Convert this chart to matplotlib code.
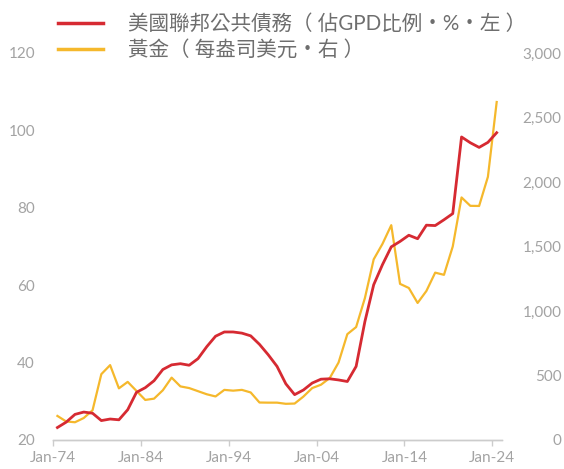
import matplotlib
matplotlib.use("Agg")
import matplotlib.pyplot as plt
from matplotlib.ticker import FuncFormatter

plt.rcParams['font.family'] = ['Lato', 'Noto Sans CJK TC', 'DejaVu Sans']

# 年度資料 (每年年中)
years = list(range(1974, 2025))
debt_pct = [23.2, 24.6, 26.6, 27.2, 26.9, 25.0, 25.4, 25.2, 27.8, 32.3,
            33.5, 35.3, 38.2, 39.4, 39.7, 39.3, 41.0, 44.1, 46.8, 47.9,
            47.9, 47.6, 46.9, 44.7, 42.0, 39.0, 34.5, 31.7, 32.9, 34.7,
            35.7, 35.8, 35.5, 35.1, 39.0, 50.6, 60.1, 65.3, 69.9, 71.3,
            72.9, 72.0, 75.5, 75.4, 76.9, 78.5, 98.3, 96.8, 95.6, 96.9,
            99.4]
gold_usd = [186, 143, 137, 170, 230, 510, 580, 400, 450, 380,
            310, 320, 385, 483, 415, 402, 378, 354, 337, 388,
            382, 388, 368, 290, 289, 289, 280, 282, 336, 402,
            428, 480, 600, 820, 875, 1100, 1400, 1520, 1665, 1210,
            1178, 1062, 1155, 1297, 1280, 1500, 1880, 1815, 1814, 2040,
            2620]
tick_years = [1974, 1984, 1994, 2004, 2014, 2024]
tick_labels = ['Jan-74', 'Jan-84', 'Jan-94', 'Jan-04', 'Jan-14', 'Jan-24']
left_ticks = [20, 40, 60, 80, 100, 120]
right_ticks = [0, 500, 1000, 1500, 2000, 2500, 3000]

label_debt = '美國聯邦公共債務（ 佔GPD比例・%・左 ）'
label_gold = '黃金（ 每盎司美元・右 ）'

red = '#d62a32'
gold = '#f5b82c'
grey = '#a3a3a3'

fig = plt.figure(figsize=(5.64, 4.69), dpi=100)
ax = fig.add_axes([0.094, 0.062, 0.796, 0.825])
ax2 = ax.twinx()

x = [y + 0.5 for y in years]
l1, = ax.plot(x, debt_pct, color=red, lw=2.0, zorder=3)
l2, = ax2.plot(x, gold_usd, color=gold, lw=1.6, zorder=2)
ax.set_zorder(ax2.get_zorder() + 1)
ax.patch.set_visible(False)

ax.set_xlim(1974, 2025.1)
ax.set_ylim(20, 120)
ax2.set_ylim(0, 3000)
ax.set_xticks(tick_years)
ax.set_xticklabels(tick_labels)
ax.set_yticks(left_ticks)
ax2.set_yticks(right_ticks)
ax2.yaxis.set_major_formatter(FuncFormatter(lambda v, p: f'{int(v):,}'))

for a in (ax, ax2):
    for s in ('top', 'left', 'right'):
        a.spines[s].set_visible(False)
    a.spines['bottom'].set_color('#cccccc')
    a.spines['bottom'].set_linewidth(1.0)

ax.tick_params(axis='x', colors='#cccccc', labelcolor=grey, labelsize=11,
               length=4, width=1, pad=4)
ax.tick_params(axis='y', length=0, labelcolor=grey, labelsize=11, pad=13)
ax2.tick_params(axis='y', length=0, labelcolor=grey, labelsize=11, pad=43)
for t in ax2.get_yticklabels():
    t.set_ha('right')

fig.legend([l1, l2], [label_debt, label_gold], loc='upper left',
           bbox_to_anchor=(0.07, 1.01), frameon=False, fontsize=14.8,
           handlelength=2.2, handletextpad=1.2, labelspacing=0.3,
           labelcolor='#6e6e6e')
leg = fig.legends[0]
for h in leg.legend_handles:
    h.set_linewidth(2.5)

fig.savefig('out.png', dpi=100)
